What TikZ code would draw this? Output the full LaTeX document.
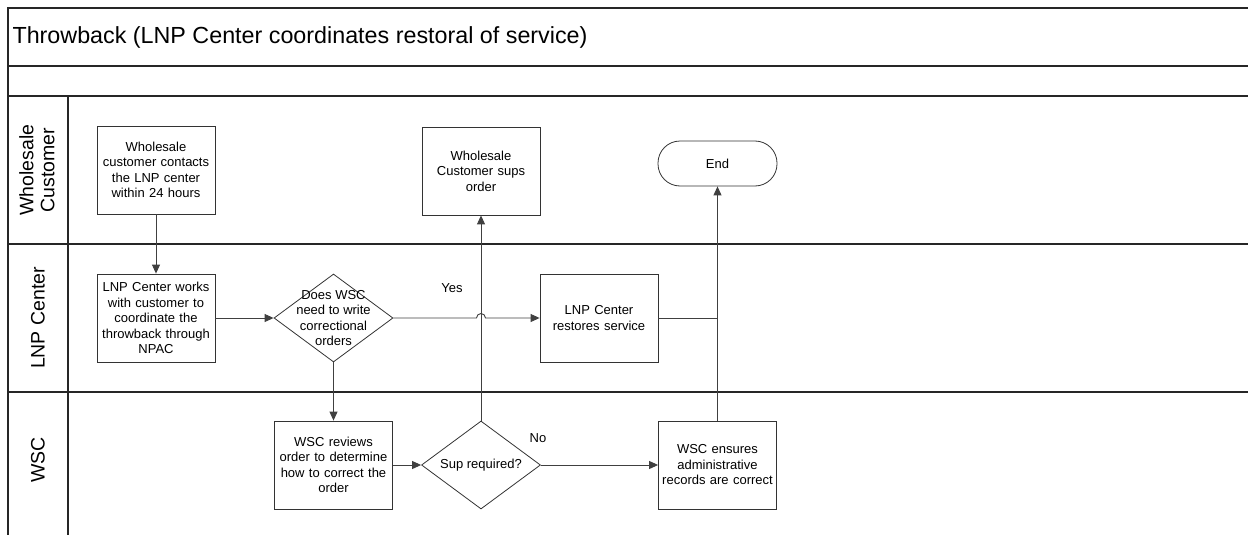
\documentclass[tikz,border=0pt]{standalone}
\usepackage{fontspec}
\setmainfont{Liberation Sans}
\usetikzlibrary{shapes.geometric,arrows.meta}

\begin{document}
\begin{tikzpicture}[x=1pt,y=-1pt,
    lane/.style={line width=1.3pt,black!85},
    task/.style={draw,line width=.8pt,black!80,text=black,minimum width=118pt,minimum height=88pt,inner sep=2pt,text width=112pt,align=center,font=\fontsize{13}{15.5}\selectfont},
    decision/.style={draw,diamond,line width=.8pt,black!80,minimum width=119pt,minimum height=88pt,inner sep=0pt},
    dtext/.style={align=center,text=black,font=\fontsize{13}{15.5}\selectfont},
    flow/.style={line width=.9pt,black!75,-{Triangle[length=9pt,width=8pt]}},
    lanename/.style={rotate=90,align=center,font=\fontsize{19.5}{21}\selectfont}]
    \useasboundingbox (0,0) rectangle (1248,535);

    \draw[lane] (8,535) -- (8,8) -- (1248,8);
    \foreach \y in {66,96,244,392}
      \draw[lane] (8,\y) -- (1248,\y);
    \draw[lane] (68,96) -- (68,535);

    \node (title) at (9,37) [anchor=west,font=\fontsize{23.3}{27}\selectfont] {Throwback (LNP Center coordinates restoral of service)};
    \node (wc) at (37,170) [lanename] {Wholesale\\Customer};
    \node (lnp) at (38,318) [lanename] {LNP Center};
    \node (wsc) at (38,460) [lanename] {WSC};

    \node (contact) at (156,170) [task] {Wholesale\\customer contacts\\the LNP center\\within 24 hours};
    \node (works) at (156,318) [task] {LNP Center works\\with customer to\\coordinate the\\throwback through\\NPAC};
    \node (need) at (333.5,318) [decision,label={[dtext]center:{Does WSC\\need to write\\correctional\\orders}}] {};
    \node (reviews) at (333.5,465) [task] {WSC reviews\\order to determine\\how to correct the\\order};
    \node (sup) at (481,465) [decision,label={[dtext]center:Sup required?}] {};
    \node (sups) at (481,171) [task] {Wholesale\\Customer sups\\order};
    \node (restores) at (599,318) [task] {LNP Center\\restores service};
    \node (ensures) at (717.5,465) [task] {WSC ensures\\administrative\\records are correct};
    \node (end) at (717.5,163.5) [draw,line width=.8pt,black!80,text=black,rounded corners=22pt,minimum width=119pt,minimum height=45pt,font=\fontsize{13}{15.5}\selectfont] {End};

    \node (yes) at (452,288) [font=\fontsize{13}{15.5}\selectfont] {Yes};
    \node (no) at (538,438) [font=\fontsize{13}{15.5}\selectfont] {No};
    \coordinate (hop) at (476.5,318);

    \draw[flow] (contact) -- (works);
    \draw[flow] (works) -- (need);
    \draw[flow] (need) -- (reviews);
    \draw[flow] (reviews) -- (sup);
    \draw[flow] (sup) -- (ensures);
    \draw[flow] (sup) -- (sups);
    \draw[flow] (need.east) -- (hop) arc[start angle=180,end angle=0,radius=4.5pt] -- (restores.west);
    \draw[flow] (ensures) -- (end);
    \draw[line width=.9pt,black!75] (restores.east) -- (restores.east -| end.south);
\end{tikzpicture}
\end{document}
